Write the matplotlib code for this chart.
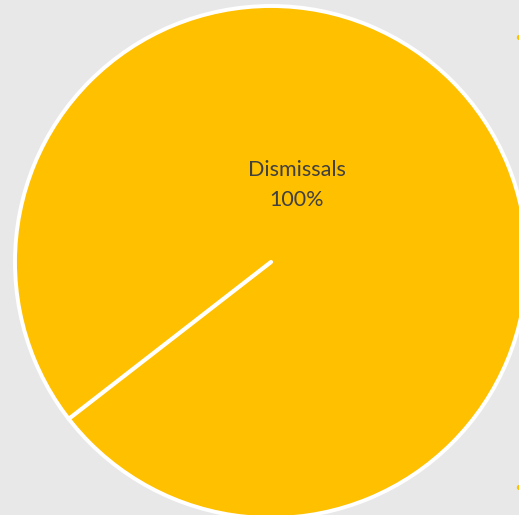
import matplotlib
matplotlib.use("Agg")

import matplotlib.pyplot as plt
import numpy as np


categories = ["Dismissals"]
values = [100]

BG = "#e8e8e8"
YELLOW = "#ffc000"

fig = plt.figure(figsize=(5.19, 5.15), dpi=100, facecolor=BG)
ax = fig.add_axes([0, 0, 1, 1])
ax.set_facecolor(BG)

cx, cy, r = 271, 253, 256
wedges, _ = ax.pie(values, colors=[YELLOW], startangle=217.8, counterclock=True,
                   center=(cx, cy), radius=r, frame=True,
                   wedgeprops=dict(edgecolor="white", linewidth=2.8))
ax.set_xlim(0, 519)
ax.set_ylim(0, 515)
ax.set_aspect("equal")
ax.axis("off")

# a full-circle wedge has no radial edge, so draw the slice border by hand
for w in wedges:
    a = np.deg2rad(w.theta1)
    ax.plot([cx, cx + r * np.cos(a)], [cy, cy + r * np.sin(a)],
            color="white", lw=3, solid_capstyle="round", zorder=3)

total = sum(values)
for name, v in zip(categories, values):
    ax.text(cx + 26, cy + 77, f"{name}\n{v / total:.0%}", ha="center", va="center",
            fontsize=15.5, color="#404040", family="Lato",
            linespacing=1.65)

# small series markers at the right edge
ax.scatter([519, 519], [478, 28], s=8, color=YELLOW, clip_on=True, zorder=3)

fig.savefig("out.png", dpi=100, facecolor=BG)
